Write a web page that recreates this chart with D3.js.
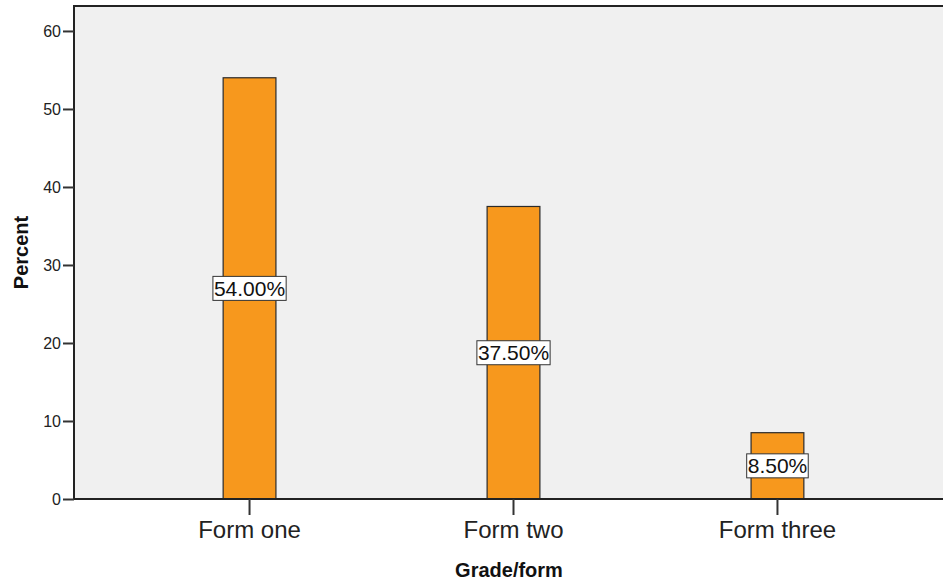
<!DOCTYPE html>
<html>
<head>
<meta charset="utf-8">
<script src="https://cdn.jsdelivr.net/npm/d3@7"></script>
<style>
  body { margin: 0; background: #fff; }
  svg { display: block; font-family: Arial, "Liberation Sans", sans-serif; }
</style>
</head>
<body>
<svg id="chart" width="943" height="582"></svg>
<script>
// data
var categories = ['Form one', 'Form two', 'Form three'];
var percents = [54.0, 37.5, 8.5];
var yTicks = [0, 10, 20, 30, 40, 50, 60];

var svg = d3.select('#chart');
// plot box (right edge runs past the window like in the original)
var plotLeft = 74, plotTop = 6, plotRight = 953, plotBottom = 499;

var x = d3.scaleBand()
    .domain(categories)
    .range([plotLeft, plotRight])
    .paddingInner(0.8)
    .paddingOuter(0.565);

var y = d3.scaleLinear()
    .domain([0, 63.2])
    .range([plotBottom, plotTop]);

// plot background
svg.append('rect')
    .attr('x', plotLeft).attr('y', plotTop)
    .attr('width', plotRight - plotLeft).attr('height', plotBottom - plotTop)
    .attr('fill', '#f0f0f0');

// bars
svg.selectAll('.bar')
    .data(percents)
    .enter().append('rect')
    .attr('class', 'bar')
    .attr('x', function(d, i) { return x(categories[i]); })
    .attr('y', function(d) { return y(d); })
    .attr('width', x.bandwidth())
    .attr('height', function(d) { return plotBottom - y(d); })
    .attr('fill', '#f7981d')
    .attr('stroke', '#2a2a2a')
    .attr('stroke-width', 1.2);

// frame (left + top)
svg.append('path')
    .attr('d', 'M' + plotLeft + ',' + plotBottom + 'V' + plotTop + 'H' + plotRight)
    .attr('fill', 'none').attr('stroke', '#222').attr('stroke-width', 2);

// y axis
var yAxis = svg.append('g')
    .attr('transform', 'translate(' + plotLeft + ',0)')
    .call(d3.axisLeft(y).tickValues(yTicks).tickSize(11).tickPadding(2).tickFormat(d3.format('d')));
yAxis.select('.domain').remove();
yAxis.selectAll('.tick line').attr('stroke', '#333').attr('stroke-width', 2);
yAxis.selectAll('.tick text').attr('font-size', 16).attr('fill', '#222')
    .attr('font-family', 'Arial, "Liberation Sans", sans-serif');

// x axis
var xAxis = svg.append('g')
    .attr('transform', 'translate(0,' + plotBottom + ')')
    .call(d3.axisBottom(x).tickSize(16).tickPadding(6));
xAxis.select('.domain').attr('d', 'M' + plotLeft + ',0H' + plotRight)
    .attr('stroke', '#222').attr('stroke-width', 2);
xAxis.selectAll('.tick line').attr('stroke', '#333').attr('stroke-width', 2);
xAxis.selectAll('.tick text').attr('font-size', 24).attr('fill', '#222')
    .attr('font-family', 'Arial, "Liberation Sans", sans-serif');

// value labels in boxes at half height
var labels = svg.selectAll('.lbl')
    .data(percents)
    .enter().append('g')
    .attr('class', 'lbl')
    .attr('transform', function(d, i) {
        return 'translate(' + (x(categories[i]) + x.bandwidth() / 2) + ',' + y(d / 2) + ')';
    });
labels.each(function(d) {
    var g = d3.select(this);
    var t = g.append('text')
        .attr('text-anchor', 'middle')
        .attr('dy', '0.36em')
        .attr('font-size', 21)
        .attr('fill', '#111')
        .text(d3.format('.2f')(d) + '%');
    var w = t.node().getComputedTextLength();
    g.insert('rect', 'text')
        .attr('x', -w / 2 - 1).attr('y', -12)
        .attr('width', w + 2).attr('height', 24)
        .attr('fill', '#fff')
        .attr('stroke', '#333').attr('stroke-width', 1);
});

// axis titles
svg.append('text')
    .attr('transform', 'translate(28,' + ((plotTop + plotBottom) / 2) + ') rotate(-90)')
    .attr('text-anchor', 'middle')
    .attr('font-size', 20).attr('font-weight', 'bold').attr('fill', '#111')
    .text('Percent');

svg.append('text')
    .attr('x', 509).attr('y', 577)
    .attr('text-anchor', 'middle')
    .attr('font-size', 20).attr('font-weight', 'bold').attr('fill', '#111')
    .text('Grade/form');
</script>
</body>
</html>
